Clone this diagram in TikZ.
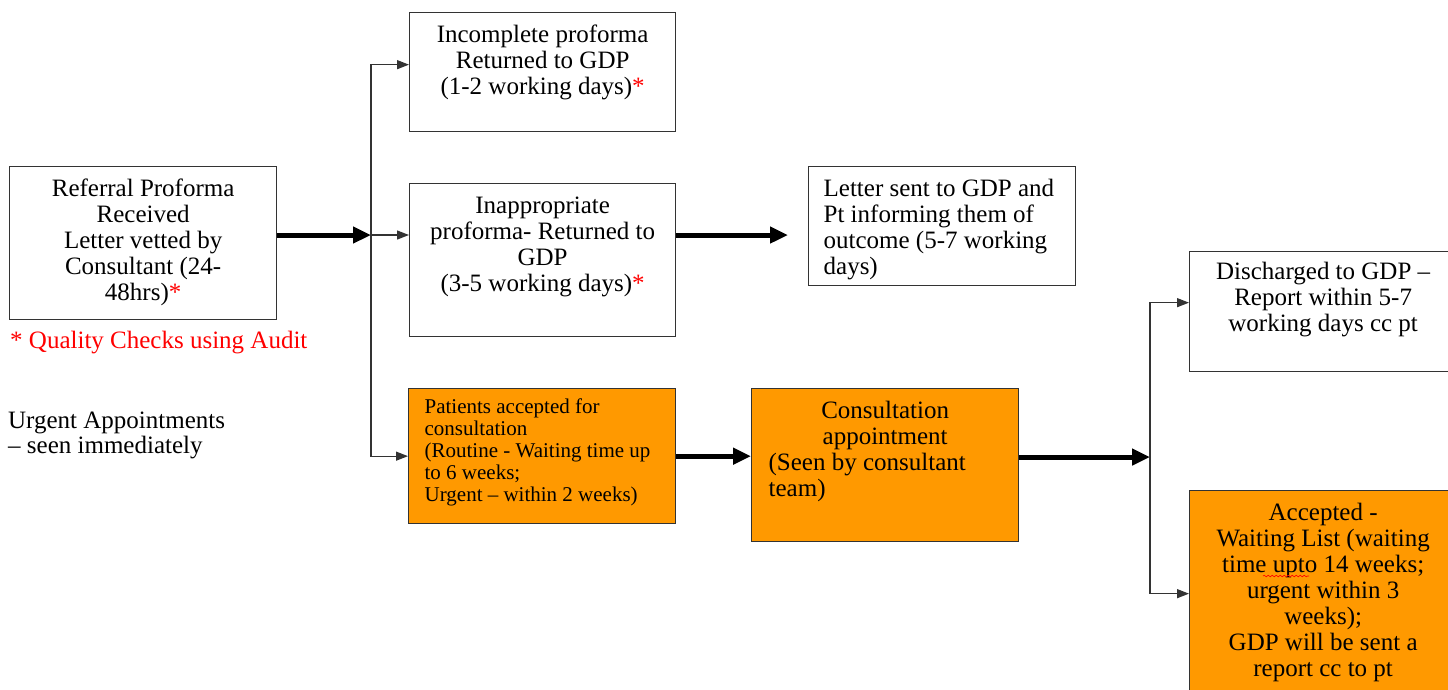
\documentclass[tikz,border=0pt]{standalone}
\usepackage{fontspec}
\setmainfont{Liberation Serif}
\usetikzlibrary{arrows.meta,decorations.pathmorphing}

\definecolor{stageorange}{RGB}{255,153,0}
\definecolor{stageline}{RGB}{51,51,51}

% text block inside a box: [top gap]{width}{height}{lines}
\newcommand{\stagetext}[4][12pt]{\parbox[c][#3][t]{#2}{\vspace*{#1}#4}}
\newcommand{\qc}{\textcolor{red}{*}}
\def\boxw{267pt}

\tikzset{
    stage/.style={draw=stageline, line width=1.3pt, inner sep=0pt, anchor=north west,
        font=\fontsize{25}{26}\selectfont},
    accepted/.style={stage, fill=stageorange},
    note/.style={inner sep=0pt, anchor=base west, font=\fontsize{25}{26}\selectfont},
    mainflow/.style={line width=5pt, -{Triangle[length=18pt,width=16pt]}},
    branch/.style={line width=1.3pt, draw=stageline, -{Triangle[length=12pt,width=9pt]}}
}

\begin{document}
\begin{tikzpicture}[x=1pt, y=-1pt]
    \clip (0,0) rectangle (1448,689);

    % boxes
    \node[stage] (referral) at (9,166) {\stagetext{\boxw}{153pt}{\centering\strut
        Referral Proforma\\Received\\Letter vetted by\\Consultant (24-\\48hrs)\qc}};
    \node[stage] (incomplete) at (409,12) {\stagetext{266pt}{119pt}{\centering\strut
        Incomplete proforma\\Returned to GDP\\(1-2 working days)\qc}};
    \node[stage] (inappropriate) at (409,183) {\stagetext{266pt}{153pt}{\centering\strut
        Inappropriate\\proforma- Returned to\\GDP\\(3-5 working days)\qc}};
    \node[stage] (letter) at (808,166) {\stagetext{\boxw}{119pt}{\raggedright\leftskip=15pt\strut
        Letter sent to GDP and\\Pt informing them of\\outcome (5-7 working\\days)}};
    \node[accepted] (patients) at (408,388) {\stagetext[9.6pt]{\boxw}{135pt}{%
        \fontsize{21}{22}\selectfont\raggedright\leftskip=16pt\strut
        Patients accepted for\\consultation\\(Routine - Waiting time up\\to 6 weeks;\\Urgent -- within 2 weeks)}};
    \node[accepted] (consult) at (751,388) {\stagetext{\boxw}{153pt}{%
        {\centering\strut Consultation\\appointment\par}%
        {\raggedright\leftskip=17pt\strut(Seen by consultant\\team)\par}}};
    \node[stage] (discharged) at (1189,251) {\stagetext[10pt]{\boxw}{120pt}{\centering\strut
        Discharged to GDP --\\Report within 5-7\\working days cc pt}};
    \node[accepted] (waitlist) at (1189,490) {\stagetext{\boxw}{206pt}{\centering\strut
        Accepted -\\Waiting List (waiting\\time upto 14 weeks;\\urgent within 3\\weeks);\\GDP will be sent a\\report cc to pt}};
    % spell-check mark under "upto"
    \draw[red, line width=0.6pt, decorate, decoration={snake, amplitude=0.8pt, segment length=4pt}]
        (1263,576) -- (1309,576);

    % notes
    \node[note] (audit) at (10,348) {\textcolor{red}{* Quality Checks using Audit}};
    \node[note] (urgent) at (8,428) {Urgent Appointments};
    \node[note] (urgent2) at (8,453) {-- seen immediately};

    % connectors
    \coordinate (split1) at (371,235);
    \coordinate (split2) at (1150,457);
    \draw[mainflow] (split1 -| referral.east) -- (split1);
    \draw[branch] (split1) |- ([yshift=7.5pt]incomplete.west);
    \draw[branch] (split1) -- (split1 -| inappropriate.west);
    \draw[branch] (split1) |- (patients.west);
    \draw[mainflow, shorten >=20pt] (split1 -| inappropriate.east) -- (split1 -| letter.west);
    \draw[mainflow] (patients.east) -- (patients.east -| consult.west);
    \draw[mainflow] (split2 -| consult.east) -- (split2);
    \draw[branch] (split2) |- ([yshift=9pt]discharged.west);
    \draw[branch] (split2) |- (waitlist.west);
\end{tikzpicture}
\end{document}
